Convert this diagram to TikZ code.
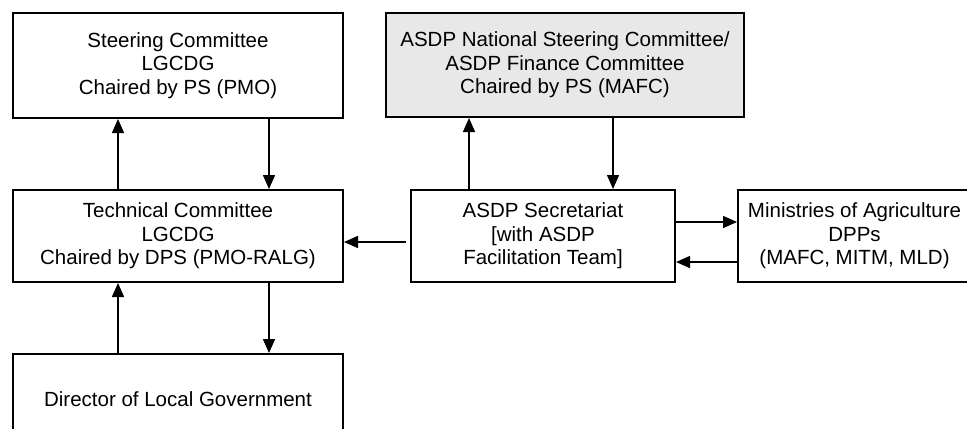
\documentclass[tikz,border=0pt]{standalone}
\usepackage{fontspec}
\setmainfont{Liberation Sans}
\usetikzlibrary{positioning}
\usetikzlibrary{arrows.meta}
\definecolor{boxgray}{RGB}{232,232,232}

\begin{document}
\begin{tikzpicture}
				[box/.style={rectangle,draw,line width=1pt,inner sep=0pt,align=center,
					minimum width=165pt,minimum height=46pt,
					font=\fontsize{10.25}{11.8}\selectfont},
					link/.style={line width=0.75pt,-{Triangle[length=7pt,width=6pt]}},
				node distance=35pt and 33pt]
				\useasboundingbox (0,0) rectangle (483.5pt,-214pt);
				\node (steer) [box,minimum height=52.5pt,anchor=north west] at (6pt,-6pt)
					{Steering Committee\\LGCDG\\Chaired by PS (PMO)};
				\node (tech) [box,below=of steer]
					{Technical Committee\\LGCDG\\Chaired by DPS (PMO-RALG)};
				\node (sec) [box,right=of tech,minimum width=132pt]
					{ASDP Secretariat\\{[}with ASDP\\Facilitation Team{]}};
				\node (mini) [box,right=30.5pt of sec,minimum width=116.5pt]
					{Ministries of Agriculture\\DPPs\\(MAFC, MITM, MLD)};
				\node (natl) [box,above=35.5pt of sec,xshift=11pt,minimum width=179pt,
					minimum height=52pt,fill=boxgray]
					{ASDP National Steering Committee/\\ASDP Finance Committee\\Chaired by PS (MAFC)};
				\node (dir) [box,below=of tech,minimum height=45pt]
					{Director of Local Government};
				\draw [link] ([xshift=-30pt]tech.north) -- ([xshift=-30pt]steer.south);
				\draw [link] ([xshift=45.5pt]steer.south) -- ([xshift=45.5pt]tech.north);
				\draw [link] ([xshift=-37pt]sec.north) -- ([xshift=-37pt]sec.north |- natl.south);
				\draw [link] ([xshift=35pt]sec.north |- natl.south) -- ([xshift=35pt]sec.north);
				\draw [link] ([xshift=-2pt,yshift=-3pt]sec.west) -- ([yshift=-3pt]tech.east);
				\draw [link] ([yshift=7pt]sec.east) -- ([yshift=7pt]mini.west);
				\draw [link] ([yshift=-13pt]mini.west) -- ([yshift=-13pt]sec.east);
				\draw [link] ([xshift=-30pt]dir.north) -- ([xshift=-30pt]tech.south);
				\draw [link] ([xshift=45.5pt]tech.south) -- ([xshift=45.5pt]dir.north);
			\end{tikzpicture}
\end{document}
